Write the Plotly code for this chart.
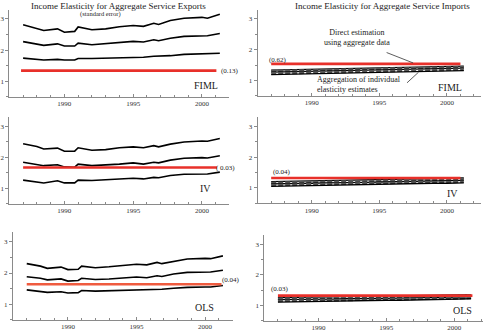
import plotly.graph_objects as go

W, H = 483, 332

# ---------------- data ----------------
years_x = [1987, 1988, 1988.5, 1989.5, 1990, 1990.75, 1991, 1992, 1993, 1994,
           1995, 1995.75, 1996.5, 1996.85, 1997.7, 1998.7, 2000, 2000.4, 2001.3]

exp_fiml_hi = [2.81, 2.70, 2.63, 2.68, 2.57, 2.60, 2.74, 2.65, 2.68, 2.75,
               2.79, 2.76, 2.86, 2.82, 2.95, 3.02, 3.05, 3.02, 3.15]
exp_fiml_mid = [2.27, 2.20, 2.15, 2.20, 2.13, 2.13, 2.22, 2.17, 2.20, 2.24,
                2.28, 2.26, 2.33, 2.30, 2.38, 2.44, 2.47, 2.46, 2.53]
exp_fiml_lo = [1.74, 1.71, 1.68, 1.70, 1.68, 1.68, 1.73, 1.73, 1.74, 1.76,
               1.78, 1.77, 1.80, 1.80, 1.82, 1.86, 1.87, 1.87, 1.90]

exp_iv_hi = [2.44, 2.35, 2.27, 2.30, 2.20, 2.20, 2.31, 2.23, 2.25, 2.31,
             2.34, 2.31, 2.38, 2.34, 2.43, 2.50, 2.53, 2.52, 2.61]
exp_iv_mid = [1.84, 1.78, 1.73, 1.76, 1.69, 1.68, 1.78, 1.73, 1.75, 1.78,
              1.82, 1.78, 1.84, 1.82, 1.91, 1.97, 1.99, 1.98, 2.05]
exp_iv_lo = [1.26, 1.21, 1.17, 1.24, 1.17, 1.17, 1.26, 1.25, 1.27, 1.30,
             1.32, 1.30, 1.35, 1.34, 1.41, 1.45, 1.46, 1.46, 1.52]

exp_ols_hi = [2.30, 2.22, 2.15, 2.19, 2.11, 2.12, 2.22, 2.17, 2.20, 2.23,
              2.28, 2.26, 2.34, 2.30, 2.38, 2.45, 2.47, 2.46, 2.55]
exp_ols_mid = [1.88, 1.83, 1.78, 1.81, 1.74, 1.76, 1.83, 1.79, 1.81, 1.83,
               1.87, 1.85, 1.91, 1.89, 1.97, 2.02, 2.03, 2.03, 2.09]
exp_ols_lo = [1.46, 1.42, 1.38, 1.40, 1.36, 1.37, 1.44, 1.42, 1.43, 1.45,
              1.46, 1.45, 1.48, 1.48, 1.51, 1.54, 1.55, 1.55, 1.60]

years_m = [1987, 1988, 1989, 1990, 1991, 1992, 1993, 1994, 1995, 1996,
           1997, 1998, 1999, 2000, 2001.25]

imp_fiml = [
    [1.34, 1.35, 1.34, 1.36, 1.37, 1.37, 1.39, 1.40, 1.41, 1.41, 1.43, 1.44, 1.45, 1.45, 1.47],
    [1.31, 1.31, 1.32, 1.32, 1.33, 1.35, 1.35, 1.36, 1.38, 1.38, 1.40, 1.40, 1.41, 1.42, 1.43],
    [1.27, 1.28, 1.27, 1.29, 1.30, 1.31, 1.32, 1.33, 1.34, 1.35, 1.36, 1.37, 1.37, 1.38, 1.40],
    [1.23, 1.24, 1.24, 1.25, 1.26, 1.26, 1.28, 1.29, 1.30, 1.31, 1.32, 1.33, 1.34, 1.34, 1.36],
    [1.19, 1.20, 1.20, 1.21, 1.22, 1.23, 1.24, 1.25, 1.26, 1.27, 1.28, 1.29, 1.29, 1.30, 1.32],
]
imp_iv = [
    [1.20, 1.21, 1.21, 1.22, 1.23, 1.24, 1.25, 1.26, 1.27, 1.28, 1.29, 1.30, 1.30, 1.31, 1.32],
    [1.16, 1.17, 1.17, 1.18, 1.19, 1.20, 1.21, 1.22, 1.23, 1.24, 1.25, 1.26, 1.26, 1.26, 1.28],
    [1.13, 1.13, 1.14, 1.15, 1.16, 1.16, 1.17, 1.18, 1.19, 1.20, 1.21, 1.22, 1.22, 1.22, 1.24],
    [1.09, 1.10, 1.10, 1.11, 1.12, 1.13, 1.14, 1.15, 1.16, 1.17, 1.17, 1.18, 1.18, 1.19, 1.20],
    [1.05, 1.06, 1.06, 1.07, 1.08, 1.09, 1.10, 1.11, 1.12, 1.13, 1.14, 1.14, 1.15, 1.15, 1.16],
]
imp_ols = [
    [1.26, 1.26, 1.27, 1.27, 1.28, 1.29, 1.29, 1.30, 1.31, 1.31, 1.32, 1.33, 1.33, 1.34, 1.35],
    [1.22, 1.23, 1.23, 1.24, 1.25, 1.25, 1.26, 1.27, 1.27, 1.28, 1.29, 1.29, 1.30, 1.30, 1.32],
    [1.19, 1.19, 1.20, 1.20, 1.21, 1.22, 1.22, 1.23, 1.24, 1.24, 1.25, 1.26, 1.26, 1.27, 1.28],
    [1.15, 1.15, 1.16, 1.17, 1.17, 1.18, 1.19, 1.19, 1.20, 1.21, 1.21, 1.22, 1.23, 1.23, 1.25],
    [1.11, 1.12, 1.12, 1.13, 1.14, 1.14, 1.15, 1.16, 1.17, 1.17, 1.18, 1.19, 1.19, 1.20, 1.22],
]

# direct (aggregate) estimates: value, start year, end year, standard error label
direct = {
    "exp_fiml": (1.34, 1986.85, 2001.05, "(0.13)"),
    "exp_iv": (1.67, 1987.0, 2001.1, "( 0.03)"),
    "exp_ols": (1.64, 1987.0, 2001.2, "(0.04)"),
    "imp_fiml": (1.54, 1987.0, 2001.0, "(0.62)"),
    "imp_iv": (1.32, 1987.0, 2001.0, "(0.04)"),
    "imp_ols": (1.32, 1987.0, 2001.35, "(0.03)"),
}

year_ticks = [1990, 1995, 2000]
y_ticks = [1, 2, 3]

# ---------------- layout helpers ----------------
def fx(p):
    return p / W

def fy(p):
    return 1 - p / H

panels = {
    1: dict(px=(4.4, 226.8), py=(9.6, 97.4), xr=[1986, 2002]),
    2: dict(px=(4.4, 226.8), py=(118.0, 204.8), xr=[1986, 2002]),
    3: dict(px=(8.1, 229.9), py=(233.9, 321.7), xr=[1986, 2002]),
    4: dict(px=(255.3, 480.7), py=(9.7, 96.5), xr=[1986, 2002.5]),
    5: dict(px=(255.3, 480.7), py=(118.0, 204.4), xr=[1986, 2002.5]),
    6: dict(px=(262.1, 482.6), py=(236.5, 322.7), xr=[1986, 2002.1]),
}
YR = [0.5, 3.3]

SERIF = "Liberation Serif, Times New Roman, serif"
AXC = "#8a8a8a"
RED = "#e8302a"
RED2 = "#ef5b3f"

fig = go.Figure()
layout = dict(
    width=W, height=H, margin=dict(l=0, r=0, t=0, b=0),
    paper_bgcolor="white", plot_bgcolor="white", showlegend=False,
    font=dict(family=SERIF, color="#222"),
)

for i, p in panels.items():
    xs = "" if i == 1 else str(i)
    layout["xaxis" + xs] = dict(
        domain=[fx(p["px"][0]), fx(p["px"][1])], range=p["xr"],
        anchor="y" + xs, showgrid=False, zeroline=False,
        showline=True, linecolor=AXC, linewidth=1,
        tickmode="array", tickvals=year_ticks,
        ticks="inside", ticklen=3, tickcolor=AXC,
        minor=dict(dtick=1, tick0=1986, ticks="inside", ticklen=2, tickcolor=AXC),
        tickfont=dict(family=SERIF, size=7, color="#333"),
    )
    layout["yaxis" + xs] = dict(
        domain=[fy(p["py"][1]), fy(p["py"][0])], range=YR,
        anchor="x" + xs, showgrid=False, zeroline=False,
        showline=True, linecolor=AXC, linewidth=1,
        tickmode="array", tickvals=y_ticks,
        ticks="outside", ticklen=3, tickcolor=AXC,
        minor=dict(dtick=0.5, tick0=0, ticks="outside", ticklen=2, tickcolor=AXC),
        tickfont=dict(family=SERIF, size=7, color="#333"),
    )

def add_line(i, x, y, color="black", width=1.5, dash="solid"):
    xs = "" if i == 1 else str(i)
    fig.add_trace(go.Scatter(x=x, y=y, mode="lines", xaxis="x" + xs, yaxis="y" + xs,
                             line=dict(color=color, width=width, dash=dash),
                             hoverinfo="skip"))

for i, series in ((1, (exp_fiml_hi, exp_fiml_mid, exp_fiml_lo)),
                  (2, (exp_iv_hi, exp_iv_mid, exp_iv_lo)),
                  (3, (exp_ols_hi, exp_ols_mid, exp_ols_lo))):
    for s in series:
        add_line(i, years_x, s, "black", 1.6)

for i, bundle in ((4, imp_fiml), (5, imp_iv), (6, imp_ols)):
    for k, s in enumerate(bundle):
        if k % 2 == 0:
            add_line(i, years_m, s, "black", 1.3)
        else:
            add_line(i, years_m, s, "#555555", 2.6, "5px,2px")

keys = {1: "exp_fiml", 2: "exp_iv", 3: "exp_ols", 4: "imp_fiml", 5: "imp_iv", 6: "imp_ols"}
for i, k in keys.items():
    v, x0, x1, _ = direct[k]
    add_line(i, [x0, x1], [v, v], RED2 if i == 3 else RED, 2.6)

ann = []

def text(xp, yp, s, size=8, xanchor="center", yanchor="middle", align="center"):
    ann.append(dict(x=fx(xp), y=fy(yp), xref="paper", yref="paper", text=s,
                    showarrow=False, xanchor=xanchor, yanchor=yanchor, align=align,
                    font=dict(family=SERIF, size=size, color="#222")))

text(115, 5.8, "Income Elasticity for Aggregate Service Exports", 9)
text(97, 14.2, "(standard error)", 6.5)
text(381.5, 5.8, "Income Elasticity for Aggregate Service Imports", 9)

text(203, 86, "FIML", 10)
text(450, 88, "FIML", 10)
text(203, 190, "IV", 10)
text(452, 195, "IV", 10)
text(202, 309, "OLS", 10)
text(462, 312, "OLS", 10)

text(216, 71, direct["exp_fiml"][3], 7, xanchor="left")
text(211, 168.7, direct["exp_iv"][3], 7, xanchor="left")
text(217, 282, direct["exp_ols"][3], 7, xanchor="left")
text(265, 60.3, direct["imp_fiml"][3], 7, xanchor="left")
text(269, 173, direct["imp_iv"][3], 7, xanchor="left")
text(267, 291, direct["imp_ols"][3], 7, xanchor="left")

text(356, 37.5, "Direct estimation<br>using aggregate data", 8)
text(313, 85.5, "Aggregation of individual<br>elasticity estimates", 8, xanchor="left", align="left")

ann.append(dict(x=1997.5, y=1.57, xref="x4", yref="y4", text="", showarrow=True,
                arrowhead=0, arrowwidth=0.8, arrowcolor="#333", ax=-28, ay=-11))
ann.append(dict(x=1997.9, y=1.27, xref="x4", yref="y4", text="", showarrow=True,
                arrowhead=0, arrowwidth=0.8, arrowcolor="#333", ax=-13, ay=12))

layout["annotations"] = ann
fig.update_layout(**layout)
fig.write_html("out.html")
